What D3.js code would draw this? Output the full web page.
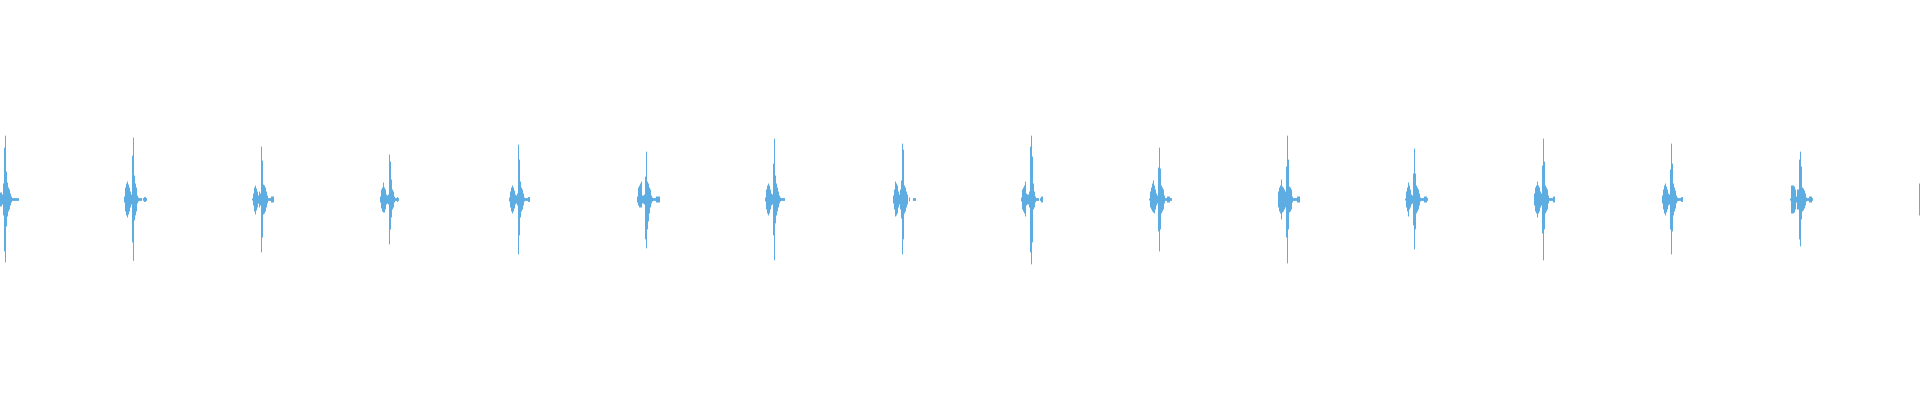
<!DOCTYPE html>
<html>
<head>
<meta charset="utf-8">
<script src="https://cdn.jsdelivr.net/npm/d3@7"></script>
<style>
  html, body { margin: 0; padding: 0; background: #fff; }
  #wave { width: 1920px; height: 400px; }
</style>
</head>
<body>
<div id="wave"></div>
<script>
// waveform envelope, 128 columns per second, 15 s shown
var duration = 15;
var colsPerSec = 128;

// time of each beat's main spike (s)
var beatTimes = [0.039, 1.039, 2.039, 3.039, 4.047, 5.047, 6.047, 7.047,
                 8.055, 9.055, 10.055, 11.047, 12.055, 13.055, 14.063, 15.063];

// column offsets around the spike: -10 .. +13
var offsets = d3.range(-10, 14);

// upper / lower envelope per beat (amplitude, % of full scale)
var beatHi = [
  [0,0,0,0,0, 3.5,3.5,2.5,8,26, 32, 14,8.5,6,5,3,1.5,0.7,0.7,0.7,0.7,0.7,0.7,0.7],
  [0,1.5,6,8,9,7.5,6,4,2.5,22, 31, 12,8,6,2,1,0.7,0.7,0.7,0,0.7,1.2,1.2,0.7],
  [0,0.5,3,6,7,5.5,4,2,4,3, 26.5, 19.5,7.5,7,6,4,2,0.7,0.7,0.7,1.5,1.5,1.5,0],
  [0,1.5,5,6,8.5,6,5,2.5,2,2.5, 22.5, 19,10,5,4,1.5,0.7,0.7,1.2,0.7,0,0,0,0],
  [0,1,4,6,7,6,4.5,2.5,2,3, 27.5, 20,9,6,5,3,1,0.7,0.7,0.7,1.2,1.2,0,0],
  [0,1.5,6,7,8,9,2,2,2.5,11.5, 24, 9,8,6,5,2,1,0.7,0.7,0.7,1.5,1.5,1.5,1.5],
  [0,1,5,7,8,7,5,3,2.5,18, 30.5, 12,8,6,4,2,1,0.7,0.7,0.7,0.7,0,0,0],
  [0,2,5,9,8,7,4,2.5,5,9.5, 28, 25,7,6,4,2.5,0,1,0,0,0,0.7,0.7,0.7],
  [1,5,6,7,9,3,2.5,2.5,4,26.5, 32, 21.5,8,4,1.5,0.7,0.7,0.7,0,0.7,1.5,1.5,0,0],
  [0.5,4,6,8,9.5,7,5,3,2,16, 26, 15.5,7,6,5,2,0.7,0.7,1.5,1.5,1.5,0.7,0.7,0],
  [0,4,6,7,10,6.5,6,5,4,16.5, 32, 20,6.5,6,5,1.5,0.7,0.7,0.7,0.7,1.5,1.5,1.5,0],
  [0,0.5,4,6,8.5,7,5,2.5,2,13, 25.5, 13,7,6,5,3,1,0.7,0.7,0.7,1.5,1.5,1.5,0.7],
  [0,3,6,7,9,7,6,4,3,17, 30.5, 19,7,6,5,2,0.7,0.7,0.7,0.7,1.5,1.5,0,0],
  [0,2,5,7,8,6.5,5,3,2.5,15, 28, 18,8,6,4.5,2,1,0.7,0.7,0.7,1.2,1.2,0,0],
  [0.5,7,7,7,6.5,5,1.5,5,5,20, 24, 16.5,6,5.5,4.5,3,1,0.7,0.7,1.5,1.5,1.5,0.7,0],
  [0,8,8,7,6,5,4,3,3,18, 30, 18,7,6,5,2,1,0.7,0.7,0.7,1.5,1.5,0,0]
];
var beatLo = [
  [0,0,0,0,0, -3.5,-3.5,-2.5,-8,-26, -31.5, -13.5,-8.5,-6,-5,-3,-1.5,-0.7,-0.7,-0.7,-0.7,-0.7,-0.7,-0.7],
  [0,-1.5,-6,-8,-9,-7.5,-6,-4,-2.5,-21.5, -30.75, -10.5,-8,-6,-2,-1,-0.7,-0.7,-0.7,0,-0.7,-1.2,-1.2,-0.7],
  [0,-0.5,-3,-6,-7.5,-5.5,-4,-2,-4,-3, -26.5, -19,-7.5,-7,-6,-4,-2,-0.7,-0.7,-0.7,-1.5,-1.5,-1.5,0],
  [0,-1.5,-4.5,-6,-6.5,-6.5,-5,-2.5,-2,-2.5, -22.5, -15,-9,-5,-4,-1.5,-0.7,-0.7,-1.2,-0.7,0,0,0,0],
  [0,-1,-4,-6,-7,-6,-4.5,-2.5,-2,-3, -27.5, -18,-9,-6,-5,-3,-1,-0.7,-0.7,-0.7,-1.2,-1.2,0,0],
  [0,-1.5,-3,-4,-4,-4,-2,-2,-2.5,-20, -24.5, -15,-11,-7,-4,-2,-1,-0.7,-0.7,-0.7,-1.5,-1.5,-1.5,-1.5],
  [0,-1,-5,-7,-8,-7,-5,-3,-2.5,-18, -30.5, -12,-8,-6,-4,-2,-1,-0.7,-0.7,-0.7,-0.7,0,0,0],
  [0,-2,-5,-8.5,-8,-7,-4,-2.5,-5,-9.5, -27.5, -20,-7,-6,-4,-2.5,0,-1,0,0,0,-0.7,-0.7,-0.7],
  [-1,-5,-6,-7,-8.5,-3,-2.5,-2.5,-4,-26.5, -32.5, -21.5,-5,-4,-1.5,-0.7,-0.7,-0.7,0,-0.7,-1.5,-1.5,0,0],
  [-0.5,-4,-5,-6,-6.5,-7,-5,-3,-2,-16, -26, -15,-7,-6,-5,-2,-0.7,-0.7,-1.5,-1.5,-1.5,-0.7,-0.7,0],
  [0,-4,-6,-7,-10,-6.5,-6,-5,-4,-19, -32, -15,-6.5,-6,-5,-1.5,-0.7,-0.7,-0.7,-0.7,-1.5,-1.5,-1.5,0],
  [0,-0.5,-4,-6,-8.5,-5,-4,-2.5,-2,-13, -25, -15,-7,-6,-5,-3,-1,-0.7,-0.7,-0.7,-1.5,-1.5,-1.5,-0.7],
  [0,-3,-6,-7,-9,-7,-6,-4,-3,-17, -30.5, -15,-7,-6,-5,-2,-0.7,-0.7,-0.7,-0.7,-1.5,-1.5,0,0],
  [0,-2,-5,-7,-8,-6.5,-5,-3,-2.5,-15, -27.5, -16,-8,-6,-4.5,-2,-1,-0.7,-0.7,-0.7,-1.2,-1.2,0,0],
  [-0.5,-7,-7,-7,-6.5,-5,-1.5,-5,-5,-20, -23.5, -10,-6,-5.5,-4.5,-3,-1,-0.7,-0.7,-1.5,-1.5,-1.5,-0.7,0],
  [0,-8,-8,-7,-6,-5,-4,-3,-3,-18, -30, -16,-7,-6,-5,-2,-1,-0.7,-0.7,-0.7,-1.5,-1.5,0,0]
];

var width = 1920,
    height = 400;

var svg = d3.select("#wave")
    .append("svg")
    .attr("width", width)
    .attr("height", height);

var xScale = d3.scaleLinear()
    .domain([0, duration])
    .range([0, width]);

var yScale = d3.scaleLinear()
    .domain([-100, 100])
    .range([399, 0]);

// flatten to one record per column
var columns = [];
beatTimes.forEach(function (t, b) {
    offsets.forEach(function (k, i) {
        var hi = beatHi[b][i], lo = beatLo[b][i];
        if (hi === 0 && lo === 0) return;
        columns.push({ t: t + k / colsPerSec, hi: hi, lo: lo });
    });
});

var colWidth = xScale(1 / colsPerSec) - xScale(0);

svg.append("g")
    .selectAll("rect")
    .data(columns)
    .enter().append("rect")
    .attr("x", function (d) { return Math.round(xScale(d.t)); })
    .attr("y", function (d) { return yScale(d.hi); })
    .attr("width", colWidth)
    .attr("height", function (d) { return yScale(d.lo) - yScale(d.hi); })
    .attr("fill", "#5dade2");
</script>
</body>
</html>
